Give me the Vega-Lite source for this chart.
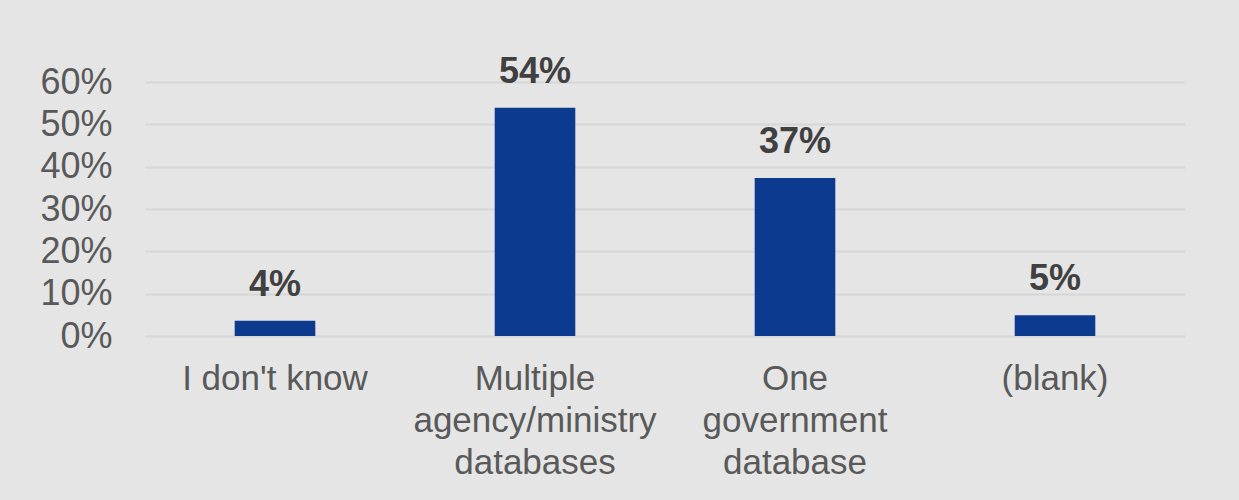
{
  "$schema": "https://vega.github.io/schema/vega-lite/v6.json",
  "autosize": {"type": "none"},
  "width": 1040,
  "height": 254,
  "padding": {"left": 145, "top": 82, "right": 54, "bottom": 164},
  "background": "#e5e5e5",
  "config": {
    "view": {"stroke": null},
    "font": "Liberation Sans"
  },
  "data": {
    "values": [
      {"answer": "I don't know", "share": 0.036},
      {"answer": "Multiple|agency/ministry|databases", "share": 0.539},
      {"answer": "One|government|database", "share": 0.373},
      {"answer": "(blank)", "share": 0.049}
    ]
  },
  "encoding": {
    "x": {
      "field": "answer",
      "type": "nominal",
      "sort": null,
      "scale": {"paddingInner": 0.69, "paddingOuter": 0.345},
      "axis": {
        "title": null,
        "domain": false,
        "ticks": false,
        "labelAngle": 0,
        "labelLimit": 0,
        "labelExpr": "split(datum.label, '|')",
        "labelFont": "Liberation Sans",
        "labelFontSize": 35,
        "labelColor": "#595959",
        "labelLineHeight": 42,
        "labelPadding": 25,
        "labelBaseline": "top"
      }
    },
    "y": {
      "field": "share",
      "type": "quantitative",
      "scale": {"domain": [0, 0.6]},
      "axis": {
        "title": null,
        "domain": false,
        "ticks": false,
        "values": [0, 0.1, 0.2, 0.3, 0.4, 0.5, 0.6],
        "format": ".0%",
        "labelFont": "Liberation Sans",
        "labelFontSize": 36,
        "labelColor": "#595959",
        "labelPadding": 33,
        "gridColor": "#d6d6d6",
        "gridWidth": 2
      }
    }
  },
  "layer": [
    {
      "mark": {"type": "bar", "color": "#0b3a8f"}
    },
    {
      "mark": {
        "type": "text",
        "baseline": "alphabetic",
        "dy": -25,
        "fontSize": 36,
        "fontWeight": "bold",
        "color": "#404040",
        "font": "Liberation Sans"
      },
      "encoding": {
        "text": {"field": "share", "type": "quantitative", "format": ".0%"}
      }
    }
  ]
}
